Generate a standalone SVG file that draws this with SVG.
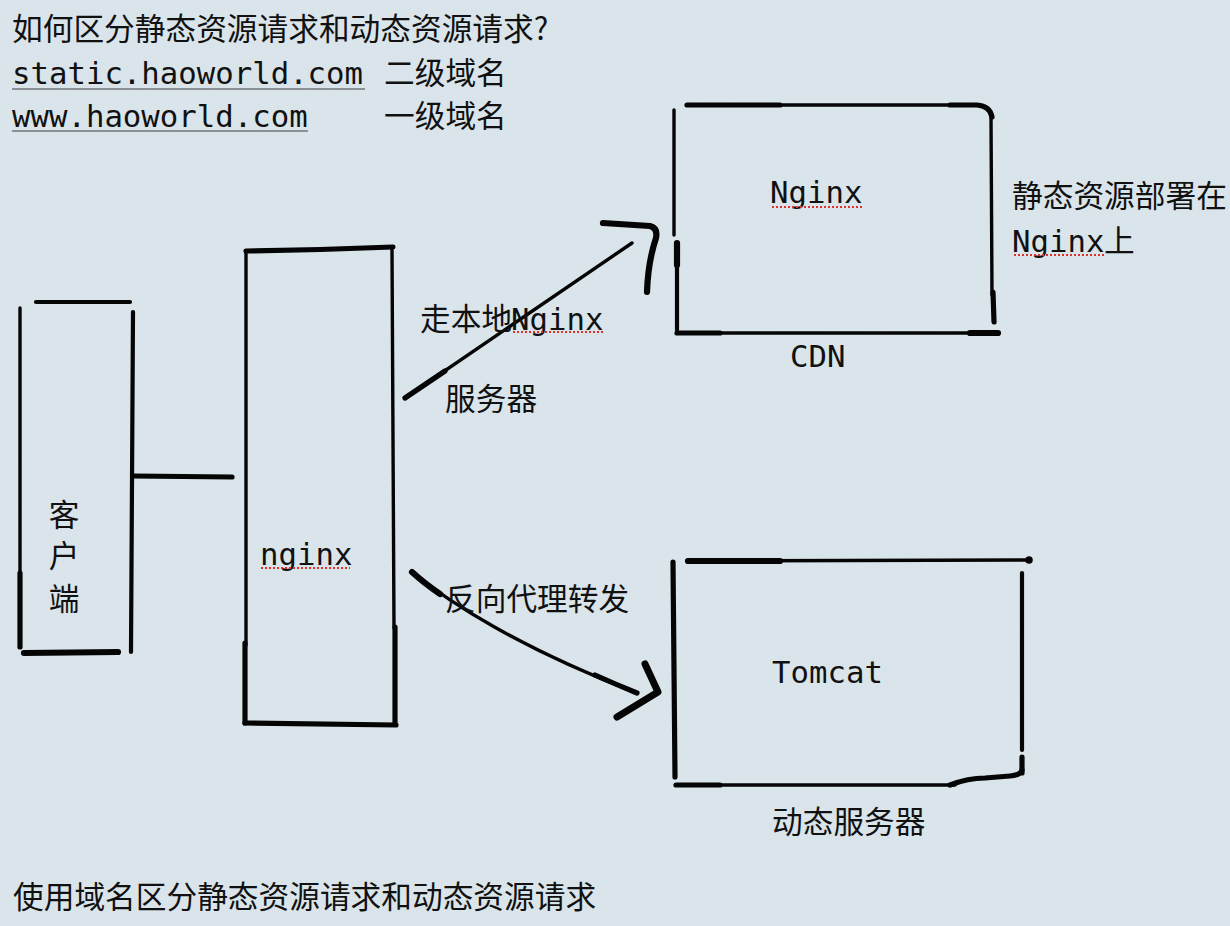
<svg xmlns="http://www.w3.org/2000/svg" width="1230" height="926" viewBox="0 0 1230 926">
  <defs>
    <filter id="paper" x="0" y="0" width="100%" height="100%">
      <feTurbulence type="fractalNoise" baseFrequency="0.9" numOctaves="2" seed="3" result="n"/>
      <feColorMatrix in="n" type="matrix" values="0 0 0 0 0.75  0 0 0 0 0.82  0 0 0 0 0.88  0 0 0 0.35 0"/>
    </filter>
    <style>
      .cn { font-family: "Noto Sans CJK SC", "Noto Sans", sans-serif; font-size: 30.7px; fill: #111; }
      .mono { font-family: "DejaVu Sans Mono", "Liberation Mono", monospace; font-size: 30.7px; fill: #111; }
      .ink { fill: none; stroke: #050505; stroke-linecap: round; stroke-linejoin: round; }
      .w3 { stroke-width: 3.4; }
      .w4 { stroke-width: 4.2; }
      .w5 { stroke-width: 5.2; }
      .w6 { stroke-width: 6.2; }
      .w7 { stroke-width: 7; }
      .uline { stroke: #6f7479; stroke-width: 1.6; }
      .spell { stroke: #e0302a; stroke-width: 2; stroke-dasharray: 2 2; fill: none; }
    </style>
  </defs>

  <rect width="1230" height="926" fill="#d9e4ea"/>
  <rect width="1230" height="926" filter="url(#paper)" opacity="0.6"/>

  <!-- header text -->
  <g id="header">
    <text class="cn" x="12" y="40">如何区分静态资源请求和动态资源请求?</text>
    <text class="mono" x="12" y="84">static.haoworld.com</text>
    <line class="uline" x1="12" y1="89" x2="365" y2="89"/>
    <text class="cn" x="384" y="84">二级域名</text>
    <text class="mono" x="12" y="127">www.haoworld.com</text>
    <line class="uline" x1="12" y1="131" x2="308" y2="131"/>
    <text class="cn" x="384" y="127">一级域名</text>
  </g>

  <!-- client node -->
  <g id="client">
    <path class="ink w4" d="M36,302 L130,302"/>
    <path class="ink w3" d="M20,308 L20,575"/>
    <path class="ink w5" d="M20,573 L20,647"/>
    <path class="ink w4" d="M133,312 L131,652"/>
    <path class="ink w6" d="M24,653 L118,652"/>
    <text class="cn" x="64" y="526" text-anchor="middle">客</text>
    <text class="cn" x="64" y="567" text-anchor="middle">户</text>
    <text class="cn" x="64" y="610" text-anchor="middle">端</text>
  </g>

  <!-- nginx node -->
  <g id="nginx">
    <path class="ink w5" d="M246,251 Q320,250 393,247"/>
    <path class="ink w3" d="M246,252 L246,645"/>
    <path class="ink w5" d="M245,643 L245,723"/>
    <path class="ink w3" d="M392,249 L394,628"/>
    <path class="ink w5" d="M395,627 L395,723"/>
    <path class="ink w5" d="M245,723 L396,725"/>
    <text class="mono" x="260" y="565">nginx</text>
    <line class="spell" x1="261" y1="568" x2="350" y2="568"/>
  </g>

  <!-- CDN / Nginx node -->
  <g id="cdn">
    <path class="ink w3" d="M687,105 L977,105"/>
    <path class="ink w5" d="M687,105 L780,105"/>
    <path class="ink w5" d="M950,105 L977,105 Q990,106 992,117"/>
    <path class="ink w3" d="M991,117 L992,295"/>
    <path class="ink w5" d="M993,292 L994,322"/>
    <path class="ink w3" d="M674,110 L674,235"/>
    <path class="ink w4" d="M677,243 L677,330"/>
    <path class="ink w6" d="M677,243 L677,265"/>
    <path class="ink w3" d="M677,333 L998,333"/>
    <path class="ink w5" d="M677,333 L720,333"/>
    <path class="ink w6" d="M970,333 L998,333"/>
    <text class="mono" x="770" y="203">Nginx</text>
    <line class="spell" x1="772" y1="207" x2="862" y2="207"/>
    <text class="mono" x="790" y="367">CDN</text>
    <text class="cn" x="1012" y="207">静态资源部署在</text>
    <text class="mono" x="1012" y="252">Nginx</text>
    <text class="cn" x="1104" y="252">上</text>
    <line class="spell" x1="1014" y1="255" x2="1104" y2="255"/>
  </g>

  <!-- Tomcat node -->
  <g id="tomcat">
    <path class="ink w3" d="M688,561 L1028,560"/>
    <path class="ink w6" d="M688,561 L780,561"/>
    <circle cx="1029" cy="560" r="3.8" fill="#050505"/>
    <path class="ink w5" d="M673,562 L675,777"/>
    <path class="ink w4" d="M1022,573 L1022,750"/>
    <path class="ink w5" d="M1022,757 L1022,773"/>
    <path class="ink w3" d="M676,785 L955,785"/>
    <path class="ink w5" d="M676,785 L720,785"/>
    <path class="ink w5" d="M950,785 Q968,778 985,778 L1010,776 Q1021,775 1022,770"/>
    <text class="mono" x="772" y="683">Tomcat</text>
    <text class="cn" x="772" y="833">动态服务器</text>
  </g>

  <!-- connectors -->
  <g id="connectors">
    <path class="ink w5" d="M133,476 L232,477"/>
    <!-- to CDN -->
    <path class="ink w3" d="M405,398 L632,243"/>
    <path class="ink w5" d="M405,398 L445,371"/>
    <path class="ink w6" d="M603,223 L650,226 Q658,228 656,238 Q648,262 647,292"/>
    <!-- to Tomcat -->
    <path class="ink w3" d="M412,572 C450,603 520,648 637,693"/>
    <path class="ink w6" d="M412,572 Q424,583 440,594"/>
    <path class="ink w5" d="M595,675 Q615,684 637,693"/>
    <path class="ink w7" d="M645,664 L658,692 L617,717"/>
  </g>

  <!-- connector labels -->
  <g id="labels">
    <text class="cn" x="420" y="330">走本地</text>
    <text class="mono" x="511" y="330">Nginx</text>
    <line class="spell" x1="513" y1="332" x2="603" y2="332"/>
    <text class="cn" x="445" y="410">服务器</text>
    <text class="cn" x="445" y="610">反向代理转发</text>
  </g>

  <!-- footer -->
  <g id="footer">
    <text class="cn" x="13" y="908">使用域名区分静态资源请求和动态资源请求</text>
  </g>
</svg>
